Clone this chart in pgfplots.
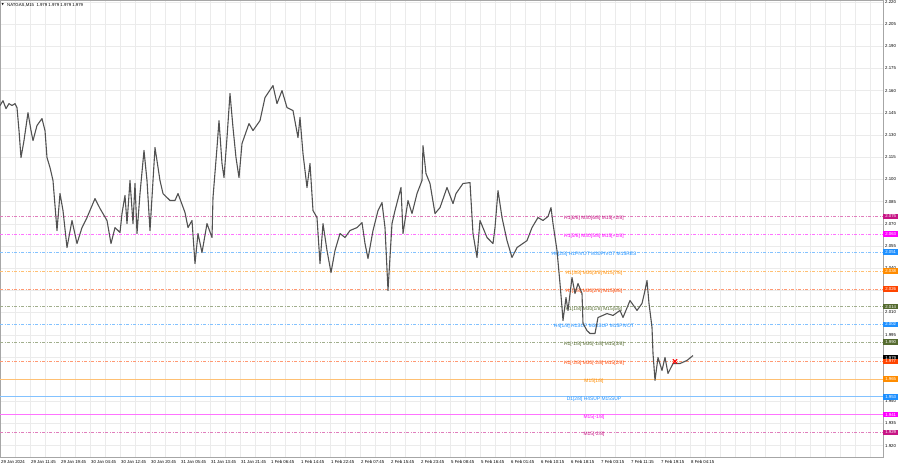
\documentclass[border=0pt]{standalone}
\usepackage{fontspec}
\setmainfont{Liberation Sans}
\newfontfamily\dejavu{DejaVu Sans}
\usepackage{pgfplots}
\usepackage{pgfplotstable}
\pgfplotsset{compat=1.18}

\definecolor{mvr}{HTML}{C71585}
\definecolor{mag}{HTML}{FF00FF}
\definecolor{dblue}{HTML}{1E90FF}
\definecolor{dorange}{HTML}{FF8C00}
\definecolor{ored}{HTML}{FF4500}
\definecolor{dolive}{HTML}{556B2F}
\definecolor{gridc}{HTML}{EBEBEB}

% time position (chart slots) and price
\pgfplotstableread{
x p
0 2.1499
3 2.1532
6 2.1478
9 2.1512
12 2.1499
15 2.1512
17 2.1485
19 2.1330
21 2.1147
24 2.1262
28 2.1451
31 2.1330
33 2.1262
37 2.1364
42 2.1411
45 2.1330
47 2.1147
50 2.1080
53 2.0992
57 2.0654
60 2.0904
63 2.0789
67 2.0539
72 2.0722
77 2.0566
82 2.0674
87 2.0742
95 2.0870
100 2.0803
107 2.0722
111 2.0566
115 2.0674
120 2.0641
122 2.0769
125 2.0891
127 2.0701
130 2.0992
133 2.0701
135 2.0972
137 2.0634
140 2.0904
144 2.1195
147 2.0992
150 2.0654
155 2.1215
160 2.0992
163 2.0904
170 2.0857
175 2.0857
178 2.0904
185 2.0776
188 2.0674
192 2.0722
195 2.0431
198 2.0634
202 2.0505
207 2.0701
212 2.0607
213 2.0877
217 2.1215
219 2.1397
222 2.1107
224 2.1012
227 2.1282
230 2.1580
233 2.1350
236 2.1147
239 2.1012
242 2.1242
249 2.1377
253 2.1330
260 2.1397
265 2.1553
273 2.1634
277 2.1512
282 2.1600
287 2.1485
293 2.1465
298 2.1282
300 2.1418
303 2.1174
307 2.0945
310 2.1107
313 2.0789
317 2.0742
320 2.0431
323 2.0701
327 2.0519
331 2.0370
335 2.0519
340 2.0634
345 2.0607
350 2.0654
357 2.0674
362 2.0708
365 2.0566
368 2.0465
373 2.0654
378 2.0789
382 2.0843
385 2.0674
388 2.0249
392 2.0701
395 2.0789
401 2.0945
403 2.0634
408 2.0857
412 2.0769
417 2.0904
422 2.0992
423 2.1228
426 2.1039
430 2.0972
435 2.0769
440 2.0809
447 2.0945
453 2.0836
456 2.0904
463 2.0972
470 2.0978
473 2.0634
477 2.0472
480 2.0722
487 2.0607
493 2.0566
495 2.0674
498 2.0924
502 2.0742
507 2.0586
512 2.0472
517 2.0539
527 2.0586
532 2.0674
538 2.0742
543 2.0722
548 2.0749
551 2.0809
553 2.0701
557 2.0519
560 2.0296
562 2.0134
563 2.0046
566 2.0201
568 2.0114
572 2.0336
575 2.0228
578 2.0296
582 2.0228
583 2.0026
587 1.9978
590 1.9958
595 1.9958
598 2.0066
607 2.0093
613 2.0080
620 2.0114
623 2.0066
630 2.0181
637 2.0114
642 2.0161
645 2.0249
647 2.0316
649 2.0161
652 1.9999
653 1.9823
655 1.9641
658 1.9796
662 1.9708
665 1.9796
668 1.9688
673 1.9755
680 1.9755
687 1.9776
693 1.9809
}\price

\newcommand{\lvlfont}{\fontsize{4.9}{5.5}\selectfont}
\newcommand{\tkfont}{\fontsize{4.3}{5}\selectfont}
\tikzset{dd/.style={dash pattern=on 3pt off 1.5pt on 1pt off 1.5pt, line width=0.5pt}}
% level line with its label
\newcommand{\lvl}[5]{%
  \addplot[#2!55, #3, forget plot] coordinates {(0,#1) (883,#1)};
  \node[text=#2!#4, font=\lvlfont, inner sep=0pt] at (axis cs:594,#1) [yshift=-2.3pt] {#5};
}
\newcommand{\tag}[3]{%
  \node[fill=#2, text=white, font=\tkfont, anchor=west, inner sep=0pt,
        minimum width=15pt, minimum height=5.6pt] at (#1) {#3};
}

\begin{document}
\begin{tikzpicture}[x=1pt,y=1pt]
\begin{axis}[
  at={(0,7)}, anchor=south west,
  scale only axis, width=883pt, height=457pt,
  xmin=0, xmax=883, ymin=1.91189, ymax=2.22081,
  axis line style={draw=gray!70, line width=0.5pt},
  major tick length=0pt, minor tick length=0pt,
  xtick={0,30,...,690},
  xticklabels={29 Jan 2024, 29 Jan 11:45, 29 Jan 19:45, 30 Jan 04:45, 30 Jan 12:45,
    30 Jan 20:45, 31 Jan 05:45, 31 Jan 13:45, 31 Jan 21:45, 1 Feb 06:45, 1 Feb 14:45,
    1 Feb 22:45, 2 Feb 07:45, 2 Feb 15:45, 2 Feb 23:45, 5 Feb 08:45, 5 Feb 16:45,
    6 Feb 01:45, 6 Feb 10:15, 6 Feb 18:15, 7 Feb 03:15, 7 Feb 11:15, 7 Feb 19:15,
    8 Feb 04:15},
  xticklabel style={font=\tkfont, anchor=north west, inner sep=0pt, yshift=-3pt, xshift=1pt},
  minor xtick={0,15,...,885},
  xminorgrids=true, xmajorgrids=false, ymajorgrids=true,
  minor grid style={gridc, line width=0.35pt},
  major grid style={gridc, line width=0.35pt},
  ytick={1.920,1.935,1.950,1.965,1.980,1.995,2.010,2.025,2.040,2.055,2.070,2.085,
    2.100,2.115,2.130,2.145,2.160,2.175,2.190,2.205,2.220},
  yticklabel pos=right,
  yticklabel style={font=\tkfont, anchor=west, inner sep=0pt, xshift=2pt,
    /pgf/number format/fixed, /pgf/number format/fixed zerofill,
    /pgf/number format/precision=3, /pgf/number format/assume math mode=true},
  clip=false,
]
\lvl{2.075}{mvr}{dd}{100}{H1[6/8] M30[6/8] M15[+2/8]}
\lvl{2.063}{mag}{dd}{100}{H1[5/8] M30[5/8] M15[+1/8]}
\lvl{2.051}{dblue}{dd}{100}{H4[2/8] H1PIVOT M30PIVOT M15RES}
\lvl{2.038}{dorange}{dd}{100}{H1[3/8] M30[3/8] M15[7/8]}
\lvl{2.026}{ored}{dd}{100}{H1[2/8] M30[2/8] M15[6/8]}
\lvl{2.014}{dolive}{dd}{100}{H1[1/8] M30[1/8] M15[5/8]}
\lvl{2.002}{dblue}{dd}{100}{H4[1/8] H1SUP M30SUP M15PIVOT}
\lvl{1.990}{dolive}{dd}{100}{H1[-1/8] M30[-1/8] M15[3/8]}
\lvl{1.977}{ored}{dd}{100}{H1[-2/8] M30[-2/8] M15[2/8]}
\lvl{1.965}{dorange}{line width=0.6pt}{100}{M15[1/8]}
\lvl{1.953}{dblue}{line width=1pt}{100}{D1[2/8] H4SUP M15SUP}
\lvl{1.941}{mag}{line width=0.6pt}{100}{M15[-1/8]}
\lvl{1.929}{mvr}{dd}{100}{M15[-2/8]}

\addplot[black!68, line width=1.1pt, line join=round] table[x=x,y=p]{\price};
\addplot[only marks, mark=x, mark size=3pt, red, line width=1.1pt] coordinates {(675,1.977)};

\coordinate (t1) at (axis cs:883,2.075);
\coordinate (t2) at (axis cs:883,2.063);
\coordinate (t3) at (axis cs:883,2.051);
\coordinate (t4) at (axis cs:883,2.038);
\coordinate (t5) at (axis cs:883,2.026);
\coordinate (t6) at (axis cs:883,2.014);
\coordinate (t7) at (axis cs:883,2.002);
\coordinate (t8) at (axis cs:883,1.990);
\coordinate (t9) at (axis cs:883,1.9795);
\coordinate (t10) at (axis cs:883,1.977);
\coordinate (t11) at (axis cs:883,1.965);
\coordinate (t12) at (axis cs:883,1.953);
\coordinate (t13) at (axis cs:883,1.941);
\coordinate (t14) at (axis cs:883,1.929);
\end{axis}
\tag{t1}{mvr}{2.075}
\tag{t2}{mag}{2.063}
\tag{t3}{dblue}{2.051}
\tag{t4}{dorange}{2.038}
\tag{t5}{ored}{2.026}
\tag{t6}{dolive}{2.014}
\tag{t7}{dblue}{2.002}
\tag{t8}{dolive}{1.990}
\tag{t9}{black}{1.979}
\tag{t10}{ored}{1.977}
\tag{t11}{dorange}{1.965}
\tag{t12}{dblue}{1.953}
\tag{t13}{mag}{1.941}
\tag{t14}{mvr}{1.929}
\node[anchor=west, inner sep=0pt, font=\dejavu\fontsize{3}{3}\selectfont] at (1.5,463) {▼};
\node[anchor=west, inner sep=0pt, font=\tkfont] at (7,463) {NATGAS,M15\ \ 1.979 1.979 1.979 1.979};
\pgfresetboundingbox
\path[use as bounding box] (0,0) rectangle (900,468);
\end{tikzpicture}
\end{document}
